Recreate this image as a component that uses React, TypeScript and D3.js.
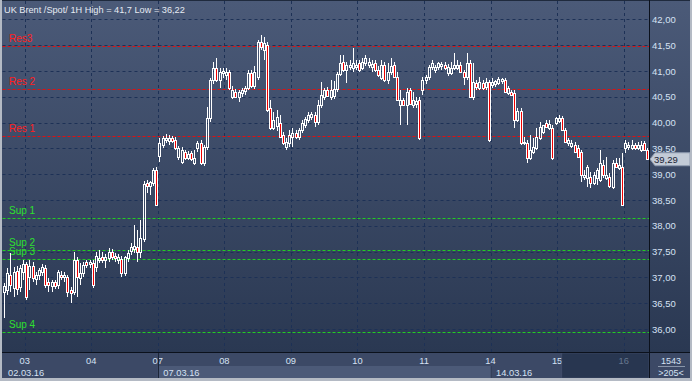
import React from 'react';
import * as d3 from 'd3';

const W = 692;
const H = 381;

const title = 'UK Brent /Spot/  1H High = 41,7 Low = 36,22';

// [open, high, low, close] hourly candles, 02.03.16 - 16.03.16
const candles: [number, number, number, number][] = [
  [36.72, 36.89, 36.22, 36.83], [36.76, 37.18, 36.66, 37.09], [37.05, 37.47, 36.72, 36.85], [36.79, 37.20, 36.62, 37.10],
  [37.12, 37.22, 36.66, 36.77], [36.81, 37.24, 36.72, 37.18], [37.10, 37.34, 36.95, 37.26],
  // 03
  [37.26, 37.30, 36.56, 36.62], [37.01, 37.34, 36.76, 37.22], [37.22, 37.30, 36.91, 36.99], [36.97, 37.10, 36.85, 37.05],
  [37.05, 37.18, 36.95, 37.14], [37.10, 37.26, 37.03, 37.20], [37.18, 37.24, 36.79, 36.85], [36.91, 36.99, 36.72, 36.85],
  [36.83, 36.95, 36.72, 36.91], [36.91, 36.95, 36.77, 36.83], [36.85, 37.14, 36.77, 37.10], [37.05, 37.12, 36.95, 37.01],
  [37.01, 37.10, 36.91, 37.05], [37.01, 37.05, 36.62, 36.72], [36.76, 36.81, 36.50, 36.70], [36.72, 37.49, 36.66, 37.34],
  [37.34, 37.40, 36.62, 37.01], [36.99, 37.28, 36.85, 37.09], [37.09, 37.30, 37.01, 37.24], [37.30, 37.34, 37.18, 37.24],
  [37.26, 37.34, 37.18, 37.30],
  // 04
  [37.28, 37.34, 36.79, 36.85], [37.20, 37.49, 37.10, 37.41], [37.34, 37.53, 37.28, 37.38], [37.40, 37.49, 37.28, 37.34],
  [37.34, 37.45, 37.18, 37.40], [37.38, 37.57, 37.30, 37.49], [37.49, 37.55, 37.34, 37.40], [37.41, 37.47, 37.30, 37.38],
  [37.34, 37.45, 37.26, 37.40], [37.36, 37.41, 37.01, 37.09], [37.09, 37.41, 37.03, 37.40], [37.38, 37.53, 37.30, 37.47],
  [37.51, 37.67, 37.43, 37.59], [37.55, 38.02, 37.47, 37.61], [37.59, 37.92, 37.30, 37.49], [37.49, 38.11, 37.38, 37.76],
  [37.74, 38.87, 37.69, 38.81], [38.83, 38.89, 38.64, 38.77], [38.77, 38.87, 38.60, 38.85], [38.83, 39.12, 38.77, 39.08],
  [39.08, 39.14, 38.38, 38.40],
  // 07
  [39.35, 39.70, 39.24, 39.60], [39.57, 39.74, 39.51, 39.70], [39.66, 39.78, 39.60, 39.70], [39.64, 39.76, 39.57, 39.70],
  [39.70, 39.74, 39.60, 39.64], [39.66, 39.72, 39.47, 39.51], [39.33, 39.55, 39.28, 39.51], [39.24, 39.53, 39.20, 39.47],
  [39.43, 39.47, 39.28, 39.31], [39.31, 39.45, 39.28, 39.39], [39.41, 39.45, 39.26, 39.29], [39.22, 39.47, 39.18, 39.31],
  [39.51, 39.64, 39.43, 39.60], [39.60, 39.66, 39.18, 39.22], [39.22, 39.57, 39.16, 39.53], [39.53, 40.30, 39.47, 40.09],
  [40.09, 40.86, 40.01, 40.83], [40.83, 41.17, 40.75, 41.06], [41.06, 41.25, 40.79, 40.83], [40.83, 41.06, 40.67, 40.98],
  [40.96, 41.06, 40.86, 41.00],
  // 08
  [40.92, 41.06, 40.83, 40.98], [40.98, 41.02, 40.63, 40.67], [40.50, 40.71, 40.46, 40.63], [40.59, 40.65, 40.48, 40.50],
  [40.50, 40.63, 40.40, 40.59], [40.57, 40.67, 40.50, 40.63], [40.61, 40.71, 40.54, 40.67], [40.67, 41.02, 40.63, 40.96],
  [40.96, 41.02, 40.67, 40.71], [40.71, 41.10, 40.65, 40.98], [40.88, 41.60, 40.83, 41.56], [41.56, 41.70, 41.41, 41.47],
  [41.41, 41.66, 41.21, 41.54], [41.50, 41.56, 40.21, 40.24], [40.28, 40.44, 39.86, 39.90], [39.90, 40.21, 39.86, 40.05],
  [39.93, 40.24, 39.84, 40.11], [39.99, 40.15, 39.70, 39.72], [39.76, 39.82, 39.57, 39.60], [39.53, 39.70, 39.47, 39.62],
  [39.60, 39.86, 39.53, 39.76],
  // 09
  [39.72, 39.90, 39.53, 39.80], [39.80, 39.86, 39.68, 39.72], [39.72, 39.90, 39.66, 39.86], [39.86, 40.05, 39.80, 39.99],
  [39.95, 40.11, 39.90, 40.07], [40.05, 40.21, 39.99, 40.15], [40.11, 40.21, 40.05, 40.17], [40.15, 40.21, 39.91, 40.01],
  [40.01, 40.44, 39.95, 40.34], [40.34, 40.79, 40.28, 40.54], [40.50, 40.67, 40.44, 40.63], [40.63, 40.69, 40.50, 40.52],
  [40.50, 40.83, 40.44, 40.63], [40.52, 40.81, 40.46, 40.65], [40.65, 40.98, 40.59, 40.94], [40.94, 41.31, 40.90, 41.16],
  [41.17, 41.31, 40.98, 41.02], [41.02, 41.17, 40.77, 41.12], [41.08, 41.21, 41.02, 41.12], [41.06, 41.45, 40.98, 41.16],
  [41.08, 41.21, 41.02, 41.12],
  // 10
  [41.16, 41.21, 40.98, 41.02], [41.06, 41.25, 41.02, 41.17], [41.16, 41.31, 41.10, 41.25], [41.12, 41.25, 41.06, 41.17],
  [41.08, 41.21, 40.98, 41.14], [41.16, 41.21, 40.98, 41.02], [41.02, 41.10, 40.88, 40.92], [40.86, 41.21, 40.83, 41.12],
  [41.12, 41.17, 40.79, 40.83], [40.83, 41.16, 40.75, 40.98], [40.98, 41.25, 40.92, 41.10], [41.12, 41.17, 40.86, 40.88],
  [40.88, 40.98, 40.42, 40.44], [40.34, 40.63, 39.95, 40.44], [40.44, 40.48, 40.32, 40.34], [40.34, 40.67, 39.95, 40.59],
  [40.63, 40.67, 40.34, 40.36], [40.34, 40.59, 40.28, 40.44], [40.36, 40.50, 40.28, 40.42], [40.44, 40.50, 39.66, 39.70],
  [40.63, 40.88, 40.54, 40.83],
  // 11
  [40.83, 40.92, 40.75, 40.88], [40.88, 41.12, 40.83, 41.08], [41.08, 41.21, 41.02, 41.16], [41.02, 41.12, 40.96, 41.08],
  [41.08, 41.17, 41.02, 41.16], [41.10, 41.17, 41.02, 41.14], [41.12, 41.17, 41.02, 41.06], [40.96, 41.14, 40.90, 41.08],
  [40.96, 41.17, 40.92, 41.06], [41.06, 41.35, 41.02, 41.12], [41.06, 41.21, 41.02, 41.12], [41.12, 41.17, 40.96, 40.98],
  [40.98, 41.02, 40.73, 40.88], [40.88, 41.35, 40.83, 41.16], [41.16, 41.21, 40.48, 40.50], [40.50, 41.16, 40.44, 40.79],
  [40.77, 40.83, 40.63, 40.69], [40.67, 40.88, 40.63, 40.79], [40.77, 40.83, 40.63, 40.67], [40.69, 40.86, 40.63, 40.79],
  [40.79, 40.83, 39.62, 39.66],
  // 14
  [40.73, 40.86, 40.67, 40.79], [40.75, 40.83, 40.69, 40.81], [40.77, 40.88, 40.73, 40.85], [40.81, 40.86, 40.75, 40.85],
  [40.83, 40.86, 40.59, 40.59], [40.57, 40.71, 40.54, 40.67], [40.59, 40.63, 40.52, 40.54], [40.57, 40.63, 39.90, 40.05],
  [40.05, 40.28, 40.01, 40.23], [40.23, 40.28, 39.57, 39.60], [39.60, 39.72, 39.57, 39.62], [39.60, 39.66, 39.22, 39.31],
  [39.31, 39.76, 39.28, 39.47], [39.43, 39.70, 39.39, 39.53], [39.51, 39.90, 39.47, 39.72], [39.70, 40.01, 39.66, 39.91],
  [39.82, 39.95, 39.78, 39.95], [39.99, 40.05, 39.90, 39.91], [39.90, 40.05, 39.86, 39.97], [39.90, 39.95, 39.28, 39.31],
  [39.99, 40.11, 39.95, 40.09],
  // 15
  [40.03, 40.15, 39.99, 40.09], [40.09, 40.13, 39.84, 39.86], [39.86, 39.90, 39.60, 39.62], [39.60, 39.70, 39.55, 39.66],
  [39.55, 39.66, 39.51, 39.60], [39.57, 39.62, 39.41, 39.43], [39.51, 39.57, 39.31, 39.33], [39.43, 39.47, 38.85, 38.98],
  [38.95, 39.08, 38.89, 38.98], [38.93, 39.18, 38.75, 39.14], [38.95, 39.04, 38.73, 38.83], [38.83, 39.04, 38.79, 38.98],
  [38.93, 39.12, 38.79, 39.08], [38.89, 39.47, 38.85, 39.22], [39.18, 39.28, 38.93, 38.98], [38.93, 39.33, 38.89, 38.98],
  [38.95, 39.02, 38.73, 38.77], [38.75, 39.28, 38.71, 39.22], [39.22, 39.31, 39.12, 39.14], [39.12, 39.31, 39.08, 39.18],
  [39.14, 39.41, 38.38, 38.40],
  // 16
  [39.51, 39.66, 39.41, 39.60], [39.53, 39.62, 39.47, 39.57], [39.51, 39.66, 39.47, 39.57], [39.57, 39.60, 39.47, 39.51],
  [39.51, 39.62, 39.47, 39.57], [39.47, 39.64, 39.43, 39.57], [39.60, 39.64, 39.47, 39.47], [39.47, 39.51, 39.28, 39.29],
];

const dayTicks = [
  { label: '03', index: 7 },
  { label: '04', index: 28 },
  { label: '07', index: 49 },
  { label: '08', index: 70 },
  { label: '09', index: 91 },
  { label: '10', index: 112 },
  { label: '11', index: 133 },
  { label: '14', index: 154 },
  { label: '15', index: 175 },
  { label: '16', index: 196 },
];

const weekLabels = [
  { label: '02.03.16', index: 0 },
  { label: '07.03.16', index: 49 },
  { label: '14.03.16', index: 154 },
];

const yTicks = [36, 36.5, 37, 37.5, 38, 38.5, 39, 39.5, 40, 40.5, 41, 41.5, 42];

const resistance = [
  { label: 'Res3', value: 41.49 },
  { label: 'Res 2', value: 40.65 },
  { label: 'Res 1', value: 39.75 },
];

const support = [
  { label: 'Sup 1', value: 38.16 },
  { label: 'Sup 2', value: 37.54 },
  { label: 'Sup 3', value: 37.36 },
  { label: 'Sup 4', value: 35.94 },
];

const lastPrice = 39.29;
const barCount = '1543';
const visibleBars = '>205<';
const futureStartIndex = 176.5;

const FONT = '"Liberation Sans", Arial, sans-serif';

export default function App() {
  const plotLeft = 2.5;
  const plotRight = 649;
  const axisY = 352;
  const x = d3.scaleLinear().domain([0, candles.length]).range([plotLeft, plotRight]);
  const y = d3.scaleLinear().domain([36, 42]).range([329, 19.4]);
  const fmt = (v: number) => d3.format('.2f')(v).replace('.', ',');
  const px = (v: number) => Math.round(v) + 0.5;

  const xWeek2 = x(weekLabels[1].index);
  const xWeek3 = x(weekLabels[2].index);
  const xFuture = x(futureStartIndex);
  const yLast = y(lastPrice);

  return (
    <svg width={W} height={H} style={{ position: 'absolute', left: 0, top: 0, display: 'block' }}>
      <defs>
        <linearGradient id="bg" x1="0" y1="0" x2="0" y2="1">
          <stop offset="0" stopColor="#4b5a78" />
          <stop offset="1" stopColor="#2a3852" />
        </linearGradient>
      </defs>
      <rect x={0} y={0} width={W} height={H} fill="#1f2a3d" />
      <rect x={2} y={1} width={W - 4} height={axisY - 1} fill="url(#bg)" />

      {/* horizontal grid */}
      {yTicks.map((t) => (
        <line key={'hg' + t} x1={plotLeft} x2={plotRight} y1={px(y(t))} y2={px(y(t))}
          stroke="#1d3156" strokeWidth={1} strokeDasharray="3,3" />
      ))}
      {/* vertical grid */}
      {dayTicks.map((d) => (
        <line key={'vg' + d.label} x1={px(x(d.index))} x2={px(x(d.index))} y1={1} y2={axisY}
          stroke="#1d3156" strokeWidth={1} strokeDasharray="3,3" />
      ))}

      {/* resistance / support */}
      {resistance.map((r) => (
        <g key={r.label}>
          <line x1={plotLeft} x2={plotRight} y1={px(y(r.value))} y2={px(y(r.value))}
            stroke="#e01010" strokeWidth={1} strokeDasharray="3,2" />
          <text x={9} y={y(r.value) - 4} fill="#ff1e1e" fontSize={10} fontFamily={FONT}>{r.label}</text>
        </g>
      ))}
      {support.map((s) => (
        <g key={s.label}>
          <line x1={plotLeft} x2={plotRight} y1={px(y(s.value))} y2={px(y(s.value))}
            stroke="#22cc22" strokeWidth={1} strokeDasharray="3,2" />
          <text x={9} y={y(s.value) - 4} fill="#2ee02e" fontSize={10} fontFamily={FONT}>{s.label}</text>
        </g>
      ))}

      {/* candles */}
      {candles.map((c, i) => {
        const [o, h, l, cl] = c;
        const cx = Math.round(x(i + 0.5));
        const top = Math.round(y(Math.max(o, cl)));
        let bot = Math.round(y(Math.min(o, cl)));
        if (bot - top < 1) bot = top + 1;
        const yh = Math.round(y(h));
        const yl = Math.round(y(l));
        const bear = cl < o;
        return (
          <g key={i}>
            {yh < top && <line x1={cx + 0.5} x2={cx + 0.5} y1={yh} y2={top} stroke="#ffffff" strokeWidth={1} />}
            {yl > bot && <line x1={cx + 0.5} x2={cx + 0.5} y1={bot} y2={yl} stroke="#ffffff" strokeWidth={1} />}
            <rect x={cx - 0.5} y={top + 0.5} width={2} height={bot - top} fill={bear ? '#f00000' : 'none'}
              stroke="#ffffff" strokeWidth={1} />
          </g>
        );
      })}

      {/* title */}
      <text x={4} y={13} fill="#e6ebf3" fontSize={9.2} fontFamily={FONT}>{title}</text>

      {/* right axis */}
      {yTicks.map((t) => (
        <text key={'yl' + t} x={652} y={y(t) + 3.5} fill="#d6e2f4" fontSize={9.5} fontFamily={FONT}>{fmt(t)}</text>
      ))}
      <path d={`M${plotRight + 1},${yLast} L${plotRight + 6},${yLast - 6.5} L690,${yLast - 6.5} L690,${yLast + 6.5} L${plotRight + 6},${yLast + 6.5} Z`}
        fill="#c3cbd7" stroke="#8e9bb0" strokeWidth={1} />
      <text x={654} y={yLast + 3.5} fill="#1a2335" fontSize={9.5} fontFamily={FONT}>{fmt(lastPrice)}</text>

      {/* bottom axis */}
      <rect x={2} y={axisY} width={W - 4} height={26} fill="#3c4966" />
      <rect x={xWeek2} y={366} width={xWeek3 - xWeek2} height={12} fill="#4c5a78" />
      {dayTicks.map((d) => (
        <text key={'dl' + d.label} x={x(d.index)} y={364} textAnchor="middle" fill="#d6e2f4" fontSize={9.3} fontFamily={FONT}>{d.label}</text>
      ))}
      {weekLabels.map((w) => (
        <text key={'wl' + w.label} x={x(w.index) + 5.5} y={376} fill="#d6e2f4" fontSize={9.3} fontFamily={FONT}>{w.label}</text>
      ))}
      <line x1={px(xWeek2)} x2={px(xWeek2)} y1={axisY} y2={378} stroke="#1c2638" strokeWidth={1} />
      <line x1={px(xWeek3)} x2={px(xWeek3)} y1={366} y2={378} stroke="#34405a" strokeWidth={1} />
      <rect x={xFuture} y={axisY + 1} width={plotRight - xFuture} height={25} fill="#283650" stroke="#4a5672" strokeWidth={0.5} />
      {dayTicks.filter((d) => x(d.index) > xFuture).map((d) => (
        <text key={'fl' + d.label} x={x(d.index)} y={364} textAnchor="middle" fill="#66768f" fontSize={9.3} fontFamily={FONT}>{d.label}</text>
      ))}

      {/* bars counter box */}
      <text x={671} y={364} textAnchor="middle" fill="#d6e2f4" fontSize={9} fontFamily={FONT}>{barCount}</text>
      <line x1={658} x2={685} y1={366.5} y2={366.5} stroke="#8a96aa" strokeWidth={1} />
      <text x={671} y={376} textAnchor="middle" fill="#d6e2f4" fontSize={9} fontFamily={FONT}>{visibleBars}</text>

      {/* separators */}
      <line x1={2} x2={W} y1={axisY + 0.5} y2={axisY + 0.5} stroke="#0b111c" strokeWidth={1} />
      <line x1={plotRight + 0.5} x2={plotRight + 0.5} y1={0} y2={378} stroke="#0b111c" strokeWidth={1} />

      {/* frame */}
      <rect x={0} y={0} width={2} height={H} fill="#b4bac4" />
      <rect x={W - 2} y={0} width={2} height={H} fill="#b4bac4" />
      <rect x={0} y={378} width={W} height={3} fill="#b4bac4" />
    </svg>
  );
}
